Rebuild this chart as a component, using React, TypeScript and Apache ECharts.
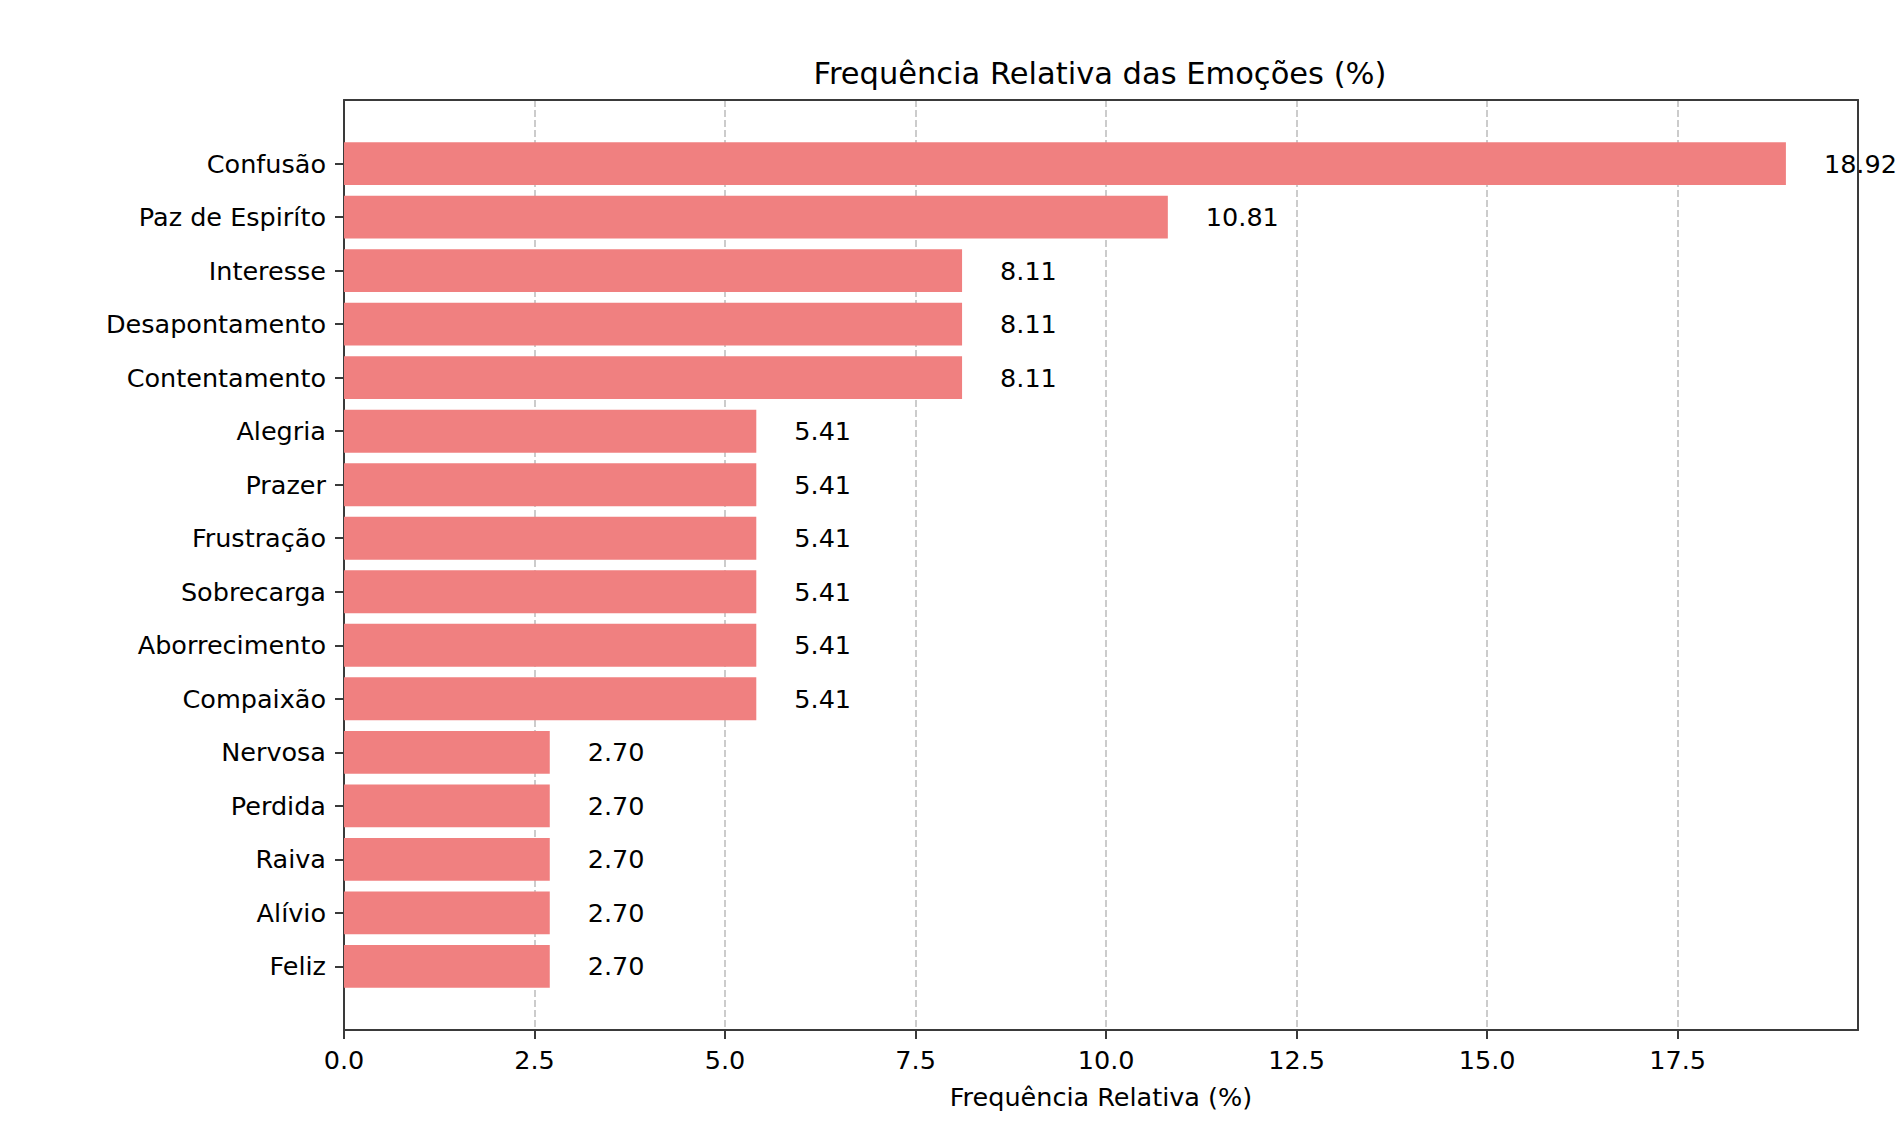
import { useEffect, useRef } from 'react';
import * as echarts from 'echarts';

// Chart data
const emotions = [
    'Confusão',
    'Paz de Espiríto',
    'Interesse',
    'Desapontamento',
    'Contentamento',
    'Alegria',
    'Prazer',
    'Frustração',
    'Sobrecarga',
    'Aborrecimento',
    'Compaixão',
    'Nervosa',
    'Perdida',
    'Raiva',
    'Alívio',
    'Feliz',
];
const frequencies = [18.92, 10.81, 8.11, 8.11, 8.11, 5.41, 5.41, 5.41, 5.41, 5.41, 5.41, 2.7, 2.7, 2.7, 2.7, 2.7];
const xMax = 19.866;
const xStep = 2.5;

const FONT = 'DejaVu Sans';
const AXIS_COLOR = '#3a3a3a';

// Plot frame and inner band area (matplotlib-like margins)
const PLOT_LEFT = 344;
const PLOT_TOP = 100;
const PLOT_WIDTH = 1514;
const PLOT_HEIGHT = 930;
const BAND = 53.51;

// a plain spine: axis line only
const spine = { show: true, onZero: false, lineStyle: { color: AXIS_COLOR, width: 2 } };

const App = () => {
    const chartRef = useRef<HTMLDivElement>(null);

    useEffect(() => {
        document.body.style.margin = '0';
        if (!chartRef.current) return;
        const chart = echarts.init(chartRef.current, undefined, { renderer: 'svg' });

        const barTop = PLOT_TOP + 1.19 * BAND - BAND / 2;

        chart.setOption({
            animation: false,
            backgroundColor: '#ffffff',
            title: {
                text: 'Frequência Relativa das Emoções (%)',
                left: PLOT_LEFT + PLOT_WIDTH / 2 - 6,
                top: 53,
                textAlign: 'center',
                textStyle: { fontFamily: FONT, fontSize: 30.5, fontWeight: 'normal', color: '#000' },
            },
            grid: [
                // frame with x axis and grid lines
                {
                    left: PLOT_LEFT,
                    top: PLOT_TOP,
                    width: PLOT_WIDTH,
                    height: PLOT_HEIGHT,
                },
                // bars area
                {
                    left: PLOT_LEFT,
                    top: barTop,
                    width: PLOT_WIDTH,
                    height: BAND * emotions.length,
                },
            ],
            xAxis: [
                {
                    gridIndex: 0,
                    type: 'value',
                    position: 'bottom',
                    min: 0,
                    max: xMax,
                    interval: xStep,
                    name: 'Frequência Relativa (%)',
                    nameLocation: 'middle',
                    nameGap: 54,
                    nameTextStyle: { fontFamily: FONT, fontSize: 25.5, color: '#000' },
                    axisLine: spine,
                    axisTick: { show: true, length: 9, lineStyle: { color: AXIS_COLOR, width: 2 } },
                    axisLabel: {
                        fontFamily: FONT,
                        fontSize: 25.5,
                        color: '#000',
                        margin: 17,
                        showMaxLabel: false,
                        formatter: (v: number) => v.toFixed(1),
                    },
                    splitLine: {
                        show: true,
                        showMinLine: false,
                        showMaxLine: false,
                        lineStyle: { color: '#cccccc', width: 2, type: [7, 3] },
                    },
                },
                {
                    // top spine
                    gridIndex: 0,
                    type: 'value',
                    position: 'top',
                    min: 0,
                    max: xMax,
                    axisLine: spine,
                    axisTick: { show: false },
                    axisLabel: { show: false },
                    splitLine: { show: false },
                },
                {
                    gridIndex: 1,
                    type: 'value',
                    min: 0,
                    max: xMax,
                    show: false,
                    splitLine: { show: false },
                },
            ],
            yAxis: [
                {
                    // left spine
                    gridIndex: 0,
                    type: 'value',
                    min: 0,
                    max: 1,
                    position: 'left',
                    axisLine: spine,
                    axisTick: { show: false },
                    axisLabel: { show: false },
                    splitLine: { show: false },
                },
                {
                    // right spine
                    gridIndex: 0,
                    type: 'value',
                    min: 0,
                    max: 1,
                    position: 'right',
                    axisLine: spine,
                    axisTick: { show: false },
                    axisLabel: { show: false },
                    splitLine: { show: false },
                },
                {
                    gridIndex: 1,
                    type: 'category',
                    data: emotions,
                    inverse: true,
                    axisLine: { show: false },
                    axisTick: {
                        show: true,
                        alignWithLabel: true,
                        interval: 0,
                        length: 9,
                        lineStyle: { color: AXIS_COLOR, width: 2 },
                    },
                    axisLabel: {
                        interval: 0,
                        fontFamily: FONT,
                        fontSize: 25.5,
                        color: '#000',
                        margin: 18,
                    },
                },
            ],
            series: [
                {
                    type: 'bar',
                    xAxisIndex: 2,
                    yAxisIndex: 2,
                    data: frequencies,
                    barWidth: BAND * 0.8,
                    itemStyle: { color: '#F08080' },
                    label: {
                        show: true,
                        position: 'right',
                        distance: 38,
                        fontFamily: FONT,
                        fontSize: 25.5,
                        color: '#000',
                        formatter: (p: { value: number }) => p.value.toFixed(2),
                    },
                },
            ],
        });

        return () => chart.dispose();
    }, []);

    return <div ref={chartRef} style={{ width: 1900, height: 1130 }} />;
};

export default App;
